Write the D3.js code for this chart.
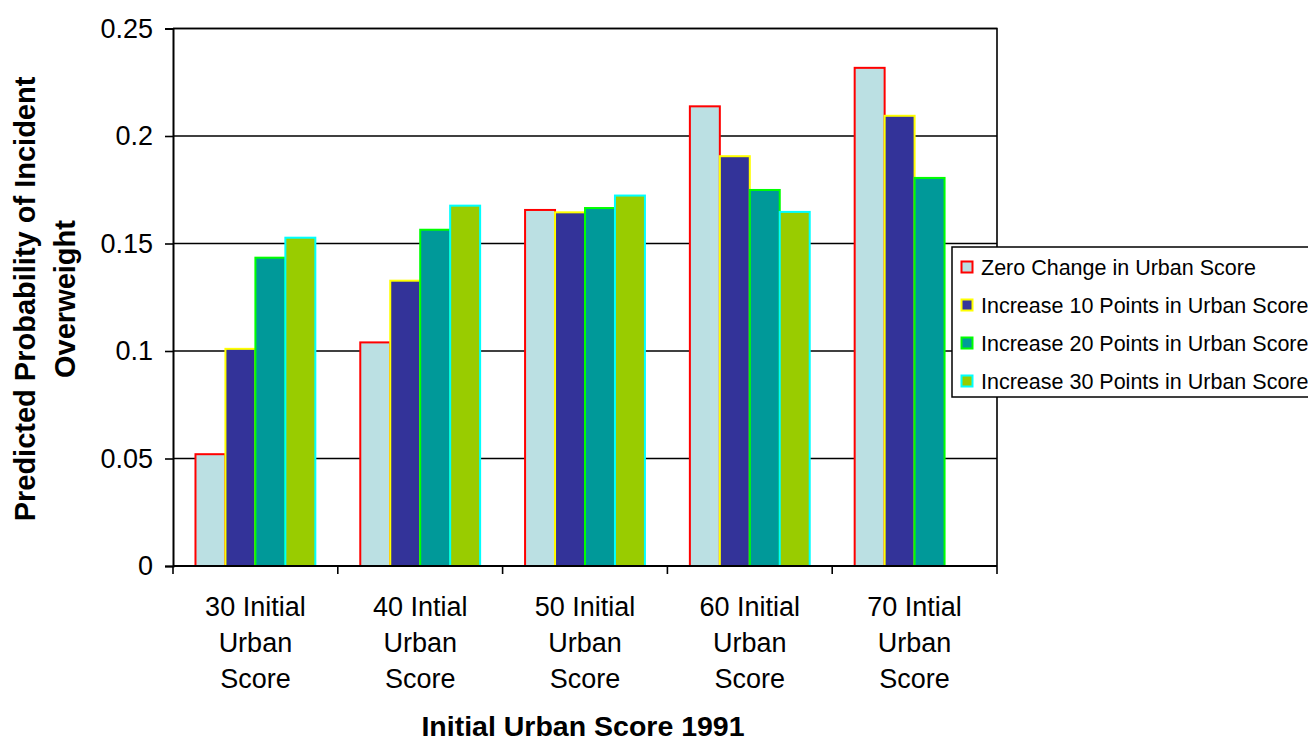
<!DOCTYPE html>
<html>
<head>
<meta charset="utf-8">
<script src="https://cdn.jsdelivr.net/npm/d3@7"></script>
<style>
  html, body { margin: 0; padding: 0; background: #fff; }
  svg { display: block; font-family: "Liberation Sans", Arial, sans-serif; }
</style>
</head>
<body>
<svg id="chart" width="1308" height="742"></svg>
<script>
// Categories (each label is split across three lines)
const categories = [
  ["30 Initial", "Urban", "Score"],
  ["40 Intial", "Urban", "Score"],
  ["50 Initial", "Urban", "Score"],
  ["60 Initial", "Urban", "Score"],
  ["70 Intial", "Urban", "Score"]
];

const seriesNames = [
  "Zero Change in Urban Score",
  "Increase 10 Points in Urban Score",
  "Increase 20 Points in Urban Score",
  "Increase 30 Points in Urban Score"
];

// Predicted probabilities per series, one value per category
const zeroChange = [0.052, 0.104, 0.1656, 0.2138, 0.2317];
const increase10 = [0.101, 0.1327, 0.1645, 0.1906, 0.2094];
const increase20 = [0.1434, 0.1564, 0.1665, 0.1749, 0.1805];
const increase30 = [0.1527, 0.1676, 0.1723, 0.1647, null];

const yTicks = [0, 0.05, 0.1, 0.15, 0.2, 0.25];
const yTickLabels = ["0", "0.05", "0.1", "0.15", "0.2", "0.25"];

const fills   = ["#BBE0E3", "#333399", "#009999", "#99CC00"];
const strokes = ["#FF0000", "#FFFF00", "#00FF00", "#00FFFF"];

const seriesValues = [zeroChange, increase10, increase20, increase30];

const svg = d3.select("#chart");
const plot = { left: 173, right: 997, top: 28.5, bottom: 566 };

const x0 = d3.scaleBand()
  .domain(d3.range(categories.length))
  .range([plot.left, plot.right])
  .padding(0);

const bw = x0.bandwidth();
const gap = bw * 1.5 / 5.5;   // gap width 150% of a bar
const x1 = d3.scaleBand()
  .domain(d3.range(seriesNames.length))
  .range([gap / 2, bw - gap / 2])
  .padding(0);

const y = d3.scaleLinear().domain([0, 0.25]).range([plot.bottom, plot.top]);

// Horizontal gridlines
svg.append("g")
  .selectAll("line")
  .data(yTicks.slice(1))
  .join("line")
  .attr("x1", plot.left).attr("x2", plot.right)
  .attr("y1", d => y(d)).attr("y2", d => y(d))
  .attr("stroke", "#000").attr("stroke-width", 1.6);

// Bars
const groups = svg.append("g")
  .selectAll("g")
  .data(categories.map((c, i) => i))
  .join("g")
  .attr("transform", i => `translate(${x0(i)},0)`);

groups.selectAll("rect")
  .data(i => seriesValues.map((vals, s) => ({ s, v: vals[i] })).filter(d => d.v != null))
  .join("rect")
  .attr("x", d => x1(d.s))
  .attr("width", x1.bandwidth())
  .attr("y", d => y(d.v))
  .attr("height", d => y(0) - y(d.v))
  .attr("fill", d => fills[d.s])
  .attr("stroke", d => strokes[d.s])
  .attr("stroke-width", 2);

// Plot border (top and right)
svg.append("path")
  .attr("d", `M${plot.left},${plot.top}H${plot.right}V${plot.bottom}`)
  .attr("fill", "none")
  .attr("stroke", "#000")
  .attr("stroke-width", 1.6);

// Y axis
const yAxis = d3.axisLeft(y)
  .tickValues(yTicks)
  .tickFormat((d, i) => yTickLabels[i])
  .tickSize(8)
  .tickPadding(12);

const yg = svg.append("g")
  .attr("transform", `translate(${plot.left},0)`)
  .call(yAxis);
yg.select(".domain").attr("stroke", "#000").attr("stroke-width", 2);
yg.selectAll(".tick line").attr("stroke", "#000").attr("stroke-width", 1.6);
yg.selectAll(".tick text")
  .attr("font-family", "'Liberation Sans', Arial, sans-serif")
  .attr("font-size", 27)
  .attr("fill", "#000");

// X axis (ticks at category boundaries)
const boundaries = d3.range(categories.length + 1).map(i => plot.left + i * bw);
svg.append("line")
  .attr("x1", plot.left).attr("x2", plot.right)
  .attr("y1", plot.bottom).attr("y2", plot.bottom)
  .attr("stroke", "#000").attr("stroke-width", 2);
svg.append("g")
  .selectAll("line")
  .data(boundaries)
  .join("line")
  .attr("x1", d => d).attr("x2", d => d)
  .attr("y1", plot.bottom).attr("y2", plot.bottom + 8)
  .attr("stroke", "#000").attr("stroke-width", 1.6);

// Category labels
const catText = svg.append("g")
  .selectAll("text")
  .data(categories.map((c, i) => ({ c, i })))
  .join("text")
  .attr("text-anchor", "middle")
  .attr("font-size", 27)
  .attr("fill", "#000");
catText.each(function(d) {
  const t = d3.select(this);
  d.c.forEach((line, k) => {
    t.append("tspan")
      .attr("x", x0(d.i) + bw / 2)
      .attr("y", 616 + k * 36)
      .text(line);
  });
});

// Axis titles
svg.append("text")
  .attr("x", 583).attr("y", 736)
  .attr("text-anchor", "middle")
  .attr("font-size", 28.5)
  .attr("font-weight", "bold")
  .text("Initial Urban Score 1991");

const yTitle = svg.append("text")
  .attr("transform", "translate(0,299) rotate(-90)")
  .attr("text-anchor", "middle")
  .attr("font-size", 29)
  .attr("font-weight", "bold");
yTitle.append("tspan").attr("x", 0).attr("y", 35).text("Predicted Probability of Incident");
yTitle.append("tspan").attr("x", 0).attr("y", 75).text("Overweight");

// Legend
const legend = svg.append("g").attr("transform", "translate(952,247)");
legend.append("rect")
  .attr("x", 0).attr("y", 0)
  .attr("width", 400).attr("height", 150)
  .attr("fill", "#fff")
  .attr("stroke", "#000")
  .attr("stroke-width", 1.5);

const items = legend.selectAll("g.item")
  .data(seriesNames)
  .join("g")
  .attr("class", "item")
  .attr("transform", (d, i) => `translate(0,${20 + i * 38})`);
items.append("rect")
  .attr("x", 9.5).attr("y", -5.5)
  .attr("width", 11).attr("height", 11)
  .attr("fill", (d, i) => fills[i])
  .attr("stroke", (d, i) => strokes[i])
  .attr("stroke-width", 2);
items.append("text")
  .attr("x", 29).attr("y", 7.5)
  .attr("font-size", 21.5)
  .attr("fill", "#000")
  .text(d => d);
</script>
</body>
</html>
